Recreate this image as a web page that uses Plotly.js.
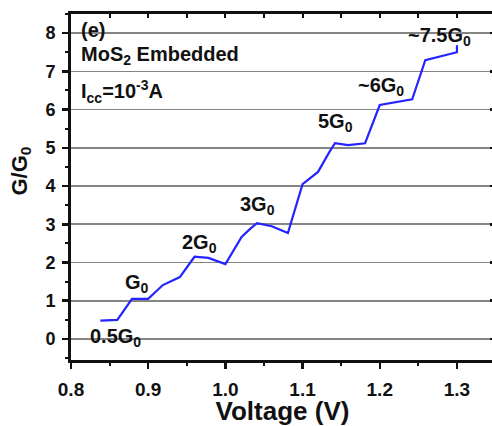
<!DOCTYPE html>
<html>
<head>
<meta charset="utf-8">
<script src="https://cdn.plot.ly/plotly-3.0.1.min.js"></script>
<style>
html,body{margin:0;padding:0;overflow:hidden;background:#fff;}
#chart{width:496px;height:426px;}
</style>
</head>
<body>
<div id="chart"></div>
<script>
// Data
var voltage = [0.838, 0.860, 0.879, 0.900, 0.919, 0.941, 0.960, 0.978, 1.000, 1.021, 1.032, 1.041, 1.060, 1.081, 1.100, 1.120, 1.135, 1.142, 1.159, 1.181, 1.200, 1.242, 1.259, 1.300, 1.300];
var conductance = [0.48, 0.50, 1.05, 1.05, 1.41, 1.62, 2.15, 2.12, 1.96, 2.67, 2.88, 3.03, 2.95, 2.77, 4.05, 4.37, 4.90, 5.12, 5.07, 5.12, 6.12, 6.27, 7.29, 7.50, 7.68];

var stepLabels = ["0.5G<sub>0</sub>", "G<sub>0</sub>", "2G<sub>0</sub>", "3G<sub>0</sub>", "5G<sub>0</sub>", "~6G<sub>0</sub>", "~7.5G<sub>0</sub>"];
var stepLabelX = [0.857, 0.885, 0.967, 1.042, 1.143, 1.202, 1.278];
var stepLabelY = [0.05, 1.46, 2.51, 3.48, 5.65, 6.61, 7.90];

var infoLabels = ["(e)", "MoS<sub>2</sub> Embedded", "I<sub>cc</sub>=10<sup>-3</sup>A"];
var infoLabelY = [8.07, 7.42, 6.48];

var xTickVals = [0.8, 0.9, 1.0, 1.1, 1.2, 1.3];
var xTickText = ["0.8", "0.9", "1.0", "1.1", "1.2", "1.3"];
var yTickVals = [0, 1, 2, 3, 4, 5, 6, 7, 8];
var xTitle = "Voltage (V)";
var yTitle = "G/G<sub>0</sub>";

var FONT = "Liberation Sans, Arial, Helvetica, sans-serif";

var annotations = [];
for (var i = 0; i < stepLabels.length; i++) {
  annotations.push({
    x: stepLabelX[i], y: stepLabelY[i], xref: "x", yref: "y",
    text: stepLabels[i], showarrow: false,
    xanchor: "center", yanchor: "middle",
    font: {family: FONT, size: 20, color: "#111", weight: "bold"}
  });
}
for (var j = 0; j < infoLabels.length; j++) {
  annotations.push({
    x: 0.811, y: infoLabelY[j], xref: "x", yref: "y",
    text: infoLabels[j], showarrow: false,
    xanchor: "left", yanchor: "middle",
    font: {family: FONT, size: 20, color: "#111", weight: "bold"}
  });
}
// y-axis title (placed as annotation to sit slightly above plot centre like the reference)
annotations.push({
  x: -0.118, y: 0.545, xref: "paper", yref: "paper",
  text: yTitle, showarrow: false, textangle: -90,
  xanchor: "center", yanchor: "middle",
  font: {family: FONT, size: 22, color: "#111", weight: "bold"}
});

var trace = {
  x: voltage, y: conductance, type: "scatter", mode: "lines",
  line: {color: "#2424ff", width: 2.2},
  hoverinfo: "skip"
};
// invisible trace to activate the mirrored axes
var ghost = {
  x: [voltage[0]], y: [conductance[0]], xaxis: "x2", yaxis: "y2",
  type: "scatter", mode: "markers", marker: {opacity: 0}, hoverinfo: "skip", showlegend: false
};

var xr = [0.8, 1.348];
var yr = [-0.55, 8.5];

var layout = {
  width: 496, height: 426,
  margin: {l: 71, r: 2, t: 14, b: 66},
  paper_bgcolor: "#fff", plot_bgcolor: "#fff",
  showlegend: false,
  font: {family: FONT, color: "#111"},
  xaxis: {
    range: xr, tickvals: xTickVals, ticktext: xTickText,
    ticks: "outside", ticklen: 6, tickwidth: 2.5, tickcolor: "#111",
    minor: {dtick: 0.05, tick0: 0.8, ticks: "outside", ticklen: 3, tickwidth: 2, tickcolor: "#111", showgrid: false},
    showline: true, linewidth: 3, linecolor: "#111",
    showgrid: false, zeroline: false,
    tickfont: {family: FONT, size: 19, color: "#111", weight: "bold"},
    ticklabelstandoff: 4,
    title: {text: xTitle, font: {family: FONT, size: 26, color: "#111", weight: "bold"}, standoff: 2}
  },
  yaxis: {
    range: yr, tickvals: yTickVals,
    ticks: "outside", ticklen: 6, tickwidth: 2.5, tickcolor: "#111",
    minor: {dtick: 0.5, tick0: 0, ticks: "outside", ticklen: 3, tickwidth: 2, tickcolor: "#111", showgrid: false},
    showline: true, linewidth: 3, linecolor: "#111",
    showgrid: true, gridcolor: "#858585", gridwidth: 1.6, zeroline: false,
    tickfont: {family: FONT, size: 18, color: "#111", weight: "bold"},
    ticklabelstandoff: 3
  },
  xaxis2: {
    overlaying: "x", side: "top", matches: "x", range: xr,
    dtick: 0.05, tick0: 0.8, ticks: "inside", ticklen: 4, tickwidth: 2, tickcolor: "#111",
    showticklabels: false, showline: true, linewidth: 3, linecolor: "#111",
    showgrid: false, zeroline: false
  },
  yaxis2: {
    overlaying: "y", side: "right", range: yr, tickvals: yTickVals,
    ticks: "inside", ticklen: 4, tickwidth: 2.5, tickcolor: "#111",
    showticklabels: false, showline: true, linewidth: 3, linecolor: "#111",
    showgrid: false, zeroline: false
  },
  annotations: annotations
};

Plotly.newPlot("chart", [trace, ghost], layout, {staticPlot: true, displayModeBar: false});
</script>
</body>
</html>
